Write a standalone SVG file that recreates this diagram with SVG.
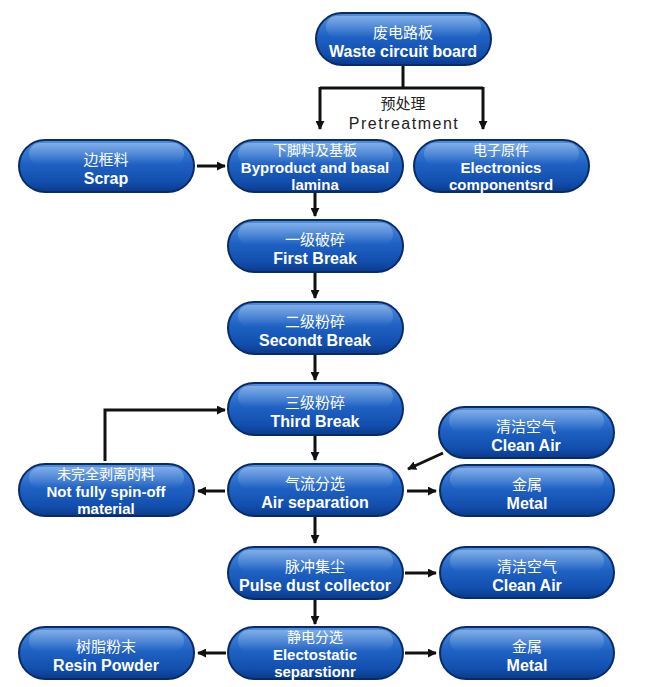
<svg xmlns="http://www.w3.org/2000/svg" width="669" height="687" viewBox="0 0 669 687">
<defs>
<linearGradient id="g" x1="0" y1="0" x2="0" y2="1">
<stop offset="0" stop-color="#4f90e0"/>
<stop offset="0.45" stop-color="#1f62c4"/>
<stop offset="0.8" stop-color="#124fae"/>
<stop offset="1" stop-color="#0a3a8c"/>
</linearGradient>
<linearGradient id="h" x1="0" y1="0" x2="0" y2="1">
<stop offset="0" stop-color="#ffffff" stop-opacity="0.3"/>
<stop offset="1" stop-color="#ffffff" stop-opacity="0"/>
</linearGradient>
<marker id="a" viewBox="0 0 10 10" refX="9" refY="5" markerWidth="3" markerHeight="3" orient="auto" markerUnits="strokeWidth">
<path d="M0,0 L10,5 L0,10 z" fill="#111"/>
</marker>
</defs>
<style>
.pill{fill:url(#g);stroke:#0a2a66;stroke-width:2}
.hl{fill:url(#h)}
.cn{font-family:"Noto Sans CJK SC",sans-serif;font-size:15px;fill:#fff;text-anchor:middle}
.cn3{font-family:"Noto Sans CJK SC",sans-serif;font-size:14px;fill:#fff;text-anchor:middle}
.en{font-family:"Liberation Sans",Arial,sans-serif;font-weight:bold;font-size:16px;fill:#fff;text-anchor:middle}
.en3{font-family:"Liberation Sans",Arial,sans-serif;font-weight:bold;font-size:15px;fill:#fff;text-anchor:middle}
.lbl{font-family:"Liberation Sans",Arial,sans-serif;font-size:16px;fill:#222;text-anchor:middle;letter-spacing:1.5px}
.lblc{font-family:"Noto Sans CJK SC",sans-serif;font-size:15px;fill:#222;text-anchor:middle}
.c{fill:none;stroke:#111;stroke-width:3;marker-end:url(#a)}
.cl{fill:none;stroke:#111;stroke-width:3}
</style>
<rect width="669" height="687" fill="#fff"/>

<g id="connectors">
<path class="cl" d="M403,65 V88 M320,88 H483"/>
<path class="c" d="M320,87 V129"/>
<path class="c" d="M483,87 V129"/>
<path class="c" d="M197,166 H225"/>
<path class="c" d="M315,193 V216"/>
<path class="c" d="M315,273 V298"/>
<path class="c" d="M315,355 V380"/>
<path class="c" d="M315,436 V460"/>
<path class="c" d="M443,453 L408,469"/>
<path class="c" d="M407,491 H436"/>
<path class="c" d="M225,491 H198"/>
<path class="c" d="M105,461 V410 H225"/>
<path class="c" d="M315,517 V543"/>
<path class="c" d="M405,573 H436"/>
<path class="c" d="M315,600 V624"/>
<path class="c" d="M226,653 H198"/>
<path class="c" d="M405,653 H436"/>
<text class="lblc" x="403" y="109">预处理</text>
<text class="lbl" x="404" y="129">Pretreatment</text>
</g>

<g id="waste">
<rect class="pill" x="316" y="13" width="175" height="52" rx="26"/>
<rect class="hl" x="326" y="16" width="155" height="22" rx="11"/>
<text class="cn" x="403" y="38">废电路板</text>
<text class="en" x="403" y="57">Waste circuit board</text>
</g>

<g id="scrap">
<rect class="pill" x="19" y="140" width="175" height="52" rx="26"/>
<rect class="hl" x="29" y="143" width="155" height="22" rx="11"/>
<text class="cn" x="106" y="165">边框料</text>
<text class="en" x="106" y="184">Scrap</text>
</g>

<g id="byproduct">
<rect class="pill" x="228" y="140" width="175" height="52" rx="26"/>
<rect class="hl" x="238" y="143" width="155" height="22" rx="11"/>
<text class="cn3" x="315" y="154.5">下脚料及基板</text>
<text class="en3" x="315" y="172.5">Byproduct and basal</text>
<text class="en3" x="315" y="189.5">lamina</text>
</g>

<g id="electronics">
<rect class="pill" x="414" y="140" width="175" height="52" rx="26"/>
<rect class="hl" x="424" y="143" width="155" height="22" rx="11"/>
<text class="cn3" x="501" y="154.5">电子原件</text>
<text class="en3" x="501" y="172.5">Electronics</text>
<text class="en3" x="501" y="189.5">componentsrd</text>
</g>

<g id="first">
<rect class="pill" x="228" y="220" width="175" height="52" rx="26"/>
<rect class="hl" x="238" y="223" width="155" height="22" rx="11"/>
<text class="cn" x="315" y="245">一级破碎</text>
<text class="en" x="315" y="264">First Break</text>
</g>

<g id="second">
<rect class="pill" x="228" y="302" width="175" height="52" rx="26"/>
<rect class="hl" x="238" y="305" width="155" height="22" rx="11"/>
<text class="cn" x="315" y="327">二级粉碎</text>
<text class="en" x="315" y="346">Secondt Break</text>
</g>

<g id="third">
<rect class="pill" x="228" y="383" width="175" height="52" rx="26"/>
<rect class="hl" x="238" y="386" width="155" height="22" rx="11"/>
<text class="cn" x="315" y="408">三级粉碎</text>
<text class="en" x="315" y="427">Third Break</text>
</g>

<g id="cleanair1">
<rect class="pill" x="439" y="407" width="175" height="51" rx="25.5"/>
<rect class="hl" x="449" y="410" width="155" height="22" rx="11"/>
<text class="cn" x="526" y="432">清洁空气</text>
<text class="en" x="526" y="451">Clean Air</text>
</g>

<g id="notfully">
<rect class="pill" x="19" y="464" width="175" height="52" rx="26"/>
<rect class="hl" x="29" y="467" width="155" height="22" rx="11"/>
<text class="cn3" x="106" y="478.5">未完全剥离的料</text>
<text class="en3" x="106" y="496.5">Not fully spin-off</text>
<text class="en3" x="106" y="513.5">material</text>
</g>

<g id="airsep">
<rect class="pill" x="228" y="464" width="175" height="52" rx="26"/>
<rect class="hl" x="238" y="467" width="155" height="22" rx="11"/>
<text class="cn" x="315" y="489">气流分选</text>
<text class="en" x="315" y="508">Air separation</text>
</g>

<g id="metal1">
<rect class="pill" x="440" y="465" width="174" height="51" rx="25.5"/>
<rect class="hl" x="450" y="468" width="154" height="22" rx="11"/>
<text class="cn" x="527" y="490">金属</text>
<text class="en" x="527" y="509">Metal</text>
</g>

<g id="pulse">
<rect class="pill" x="228" y="547" width="175" height="52" rx="26"/>
<rect class="hl" x="238" y="550" width="155" height="22" rx="11"/>
<text class="cn" x="315" y="572">脉冲集尘</text>
<text class="en" x="315" y="591">Pulse dust collector</text>
</g>

<g id="cleanair2">
<rect class="pill" x="440" y="547" width="174" height="51" rx="25.5"/>
<rect class="hl" x="450" y="550" width="154" height="22" rx="11"/>
<text class="cn" x="527" y="572">清洁空气</text>
<text class="en" x="527" y="591">Clean Air</text>
</g>

<g id="resin">
<rect class="pill" x="19" y="627" width="175" height="52" rx="26"/>
<rect class="hl" x="29" y="630" width="155" height="22" rx="11"/>
<text class="cn" x="106" y="652">树脂粉末</text>
<text class="en" x="106" y="671">Resin Powder</text>
</g>

<g id="electo">
<rect class="pill" x="228" y="627" width="175" height="52" rx="26"/>
<rect class="hl" x="238" y="630" width="155" height="22" rx="11"/>
<text class="cn3" x="315" y="641.5">静电分选</text>
<text class="en3" x="315" y="659.5">Electostatic</text>
<text class="en3" x="315" y="676.5">separstionr</text>
</g>

<g id="metal2">
<rect class="pill" x="440" y="627" width="174" height="52" rx="26"/>
<rect class="hl" x="450" y="630" width="154" height="22" rx="11"/>
<text class="cn" x="527" y="652">金属</text>
<text class="en" x="527" y="671">Metal</text>
</g>
</svg>
